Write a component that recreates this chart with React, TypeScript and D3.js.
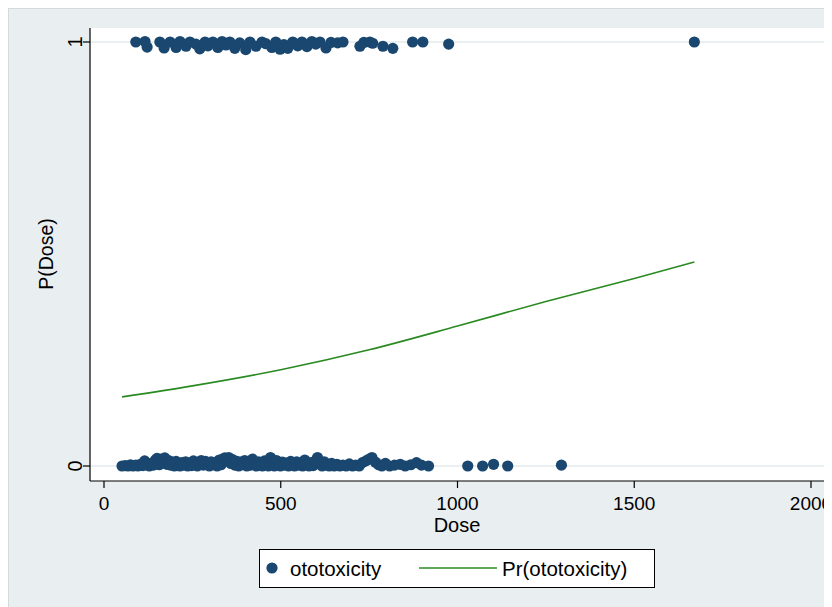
import * as d3 from "d3";

// ototoxicity = 1 : [dose, jittered y]
const eventPoints: [number, number][] = [
  [90, 1.0], [116, 1.001], [122, 0.988], [158, 1.0], [170, 0.986], [187, 1.0],
  [204, 0.987], [215, 1.001], [232, 0.99], [243, 1.0], [260, 0.995], [271, 0.984],
  [286, 1.0], [294, 0.991], [308, 1.0], [322, 0.987], [334, 1.001], [345, 0.993],
  [356, 1.0], [370, 0.985], [384, 0.998], [401, 0.982], [413, 1.0], [430, 0.99],
  [447, 1.0], [458, 0.996], [475, 0.987], [486, 1.0], [498, 0.983], [509, 0.994],
  [520, 0.985], [534, 1.0], [548, 0.991], [560, 1.0], [574, 0.989], [588, 1.001],
  [599, 0.995], [611, 1.0], [628, 0.986], [642, 0.999], [661, 0.998], [676, 1.0],
  [724, 0.99], [735, 0.999], [752, 1.0], [760, 0.997], [789, 0.99], [817, 0.985],
  [873, 1.0], [902, 1.0], [975, 0.995], [1670, 1.0],
];

// ototoxicity = 0 : [dose, jittered y]
const nonEventPoints: [number, number][] = [
  [51, 0.0], [60, 0.001], [68, 0.0], [75, 0.003], [82, 0.0], [90, 0.002],
  [96, 0.0], [103, 0.004], [110, 0.001], [115, 0.012], [121, 0.003], [128, 0.0],
  [133, 0.006], [140, 0.002], [146, 0.014], [150, 0.018], [156, 0.003], [161, 0.016],
  [166, 0.01], [172, 0.019], [178, 0.004], [183, 0.013], [188, 0.002], [193, 0.009],
  [199, 0.0], [204, 0.011], [210, 0.003], [215, 0.0], [221, 0.008], [226, 0.002],
  [231, 0.01], [237, 0.0], [242, 0.006], [248, 0.001], [253, 0.012], [259, 0.004],
  [264, 0.0], [270, 0.009], [275, 0.013], [281, 0.002], [287, 0.011], [292, 0.005],
  [298, 0.0], [303, 0.01], [309, 0.003], [314, 0.008], [320, 0.0], [326, 0.014],
  [331, 0.003], [337, 0.017], [342, 0.019], [348, 0.012], [353, 0.02], [359, 0.006],
  [364, 0.015], [370, 0.002], [376, 0.011], [381, 0.0], [387, 0.009], [392, 0.003],
  [398, 0.013], [404, 0.0], [409, 0.007], [415, 0.002], [420, 0.016], [426, 0.005],
  [431, 0.0], [437, 0.01], [443, 0.003], [448, 0.0], [454, 0.012], [459, 0.004],
  [465, 0.0], [471, 0.02], [476, 0.008], [482, 0.0], [488, 0.013], [493, 0.003],
  [499, 0.0], [505, 0.009], [510, 0.002], [516, 0.007], [522, 0.0], [528, 0.011],
  [533, 0.004], [539, 0.0], [545, 0.01], [551, 0.002], [556, 0.006], [562, 0.0],
  [568, 0.014], [574, 0.003], [580, 0.0], [586, 0.008], [592, 0.001], [598, 0.012],
  [604, 0.02], [610, 0.007], [617, 0.0], [623, 0.01], [630, 0.002], [637, 0.0],
  [644, 0.006], [651, 0.0], [659, 0.004], [667, 0.0], [676, 0.002], [685, 0.0],
  [694, 0.005], [703, 0.0], [712, 0.002], [722, 0.0], [731, 0.008], [741, 0.012],
  [750, 0.016], [758, 0.02], [768, 0.009], [777, 0.003], [786, 0.0], [796, 0.006],
  [808, 0.0], [822, 0.002], [838, 0.004], [852, 0.0], [868, 0.003], [884, 0.008],
  [898, 0.002], [918, 0.0], [1029, 0.0], [1071, 0.0], [1102, 0.004], [1142, 0.0],
  [1294, 0.002],
];

// predicted probability curve
const predDose = [51, 250, 500, 750, 1000, 1250, 1500, 1670];
const predProb = [0.163, 0.189, 0.227, 0.274, 0.33, 0.388, 0.442, 0.481];

const xTicks = [0, 500, 1000, 1500, 2000];
const yTicks = [0, 1];
const legendLabels = ["ototoxicity", "Pr(ototoxicity)"];

const W = 824;
const H = 599;
const FONT = "'Liberation Sans', Arial, Helvetica, sans-serif";
const NAVY = "#1a476f";
const GREEN = "#2a8a22";

export default function App() {
  const plot = { left: 82, right: 816, top: 20, bottom: 473 };
  const x = d3.scaleLinear().domain([0, 2000]).range([96, 803]);
  const y = d3.scaleLinear().domain([0, 1]).range([458, 34]);

  const line = d3
    .line<number>()
    .x((d) => x(d))
    .y((_, i) => y(predProb[i]))
    .curve(d3.curveMonotoneX);

  const midX = (plot.left + plot.right) / 2;
  const midY = (y(0) + y(1)) / 2;

  return (
    <svg width={W} height={H} style={{ display: "block" }} fontFamily={FONT}>
      <rect x={0.5} y={0.5} width={W} height={H} fill="#e9eff0" stroke="#d3dadc" />
      <rect
        x={plot.left}
        y={plot.top}
        width={plot.right - plot.left}
        height={plot.bottom - plot.top}
        fill="#ffffff"
      />
      {/* gridlines */}
      {yTicks.map((t) => (
        <line
          key={"g" + t}
          x1={plot.left}
          x2={plot.right}
          y1={y(t)}
          y2={y(t)}
          stroke="#e3eaec"
          strokeWidth={1.5}
        />
      ))}

      {/* points */}
      <g fill={NAVY}>
        {eventPoints.map((d, i) => (
          <circle key={"e" + i} cx={x(d[0])} cy={y(d[1])} r={5.6} />
        ))}
        {nonEventPoints.map((d, i) => (
          <circle key={"n" + i} cx={x(d[0])} cy={y(d[1])} r={5.6} />
        ))}
      </g>

      {/* fitted curve */}
      <path d={line(predDose) ?? ""} fill="none" stroke={GREEN} strokeWidth={1.6} />

      {/* axes */}
      <line x1={plot.left} x2={plot.left} y1={plot.top} y2={plot.bottom} stroke="#000" strokeWidth={1.2} />
      <line x1={plot.left} x2={plot.right} y1={plot.bottom} y2={plot.bottom} stroke="#000" strokeWidth={1.2} />

      {yTicks.map((t) => (
        <g key={"yt" + t}>
          <line x1={plot.left - 7} x2={plot.left} y1={y(t)} y2={y(t)} stroke="#000" strokeWidth={1.2} />
          <text
            transform={`translate(74,${y(t)}) rotate(-90)`}
            textAnchor="middle"
            fontSize={20}
            fill="#000"
          >
            {t}
          </text>
        </g>
      ))}
      <text
        transform={`translate(45,${midY}) rotate(-90)`}
        textAnchor="middle"
        fontSize={19.5}
        fill="#000"
      >
        P(Dose)
      </text>

      {xTicks.map((t) => (
        <g key={"xt" + t}>
          <line x1={x(t)} x2={x(t)} y1={plot.bottom} y2={plot.bottom + 7} stroke="#000" strokeWidth={1.2} />
          <text x={x(t)} y={502} textAnchor="middle" fontSize={19} fill="#000">
            {t}
          </text>
        </g>
      ))}
      <text x={midX} y={524} textAnchor="middle" fontSize={20} fill="#000">
        Dose
      </text>

      {/* legend */}
      <rect x={251.5} y={541.5} width={395} height={38} fill="#ffffff" stroke="#000" strokeWidth={1} />
      <circle cx={264} cy={560} r={5.6} fill={NAVY} />
      <text x={282} y={567.5} fontSize={20.5} fill="#000">
        {legendLabels[0]}
      </text>
      <line x1={411} x2={489} y1={560} y2={560} stroke={GREEN} strokeWidth={1.6} />
      <text x={494} y={567.5} fontSize={20.5} fill="#000">
        {legendLabels[1]}
      </text>
    </svg>
  );
}
